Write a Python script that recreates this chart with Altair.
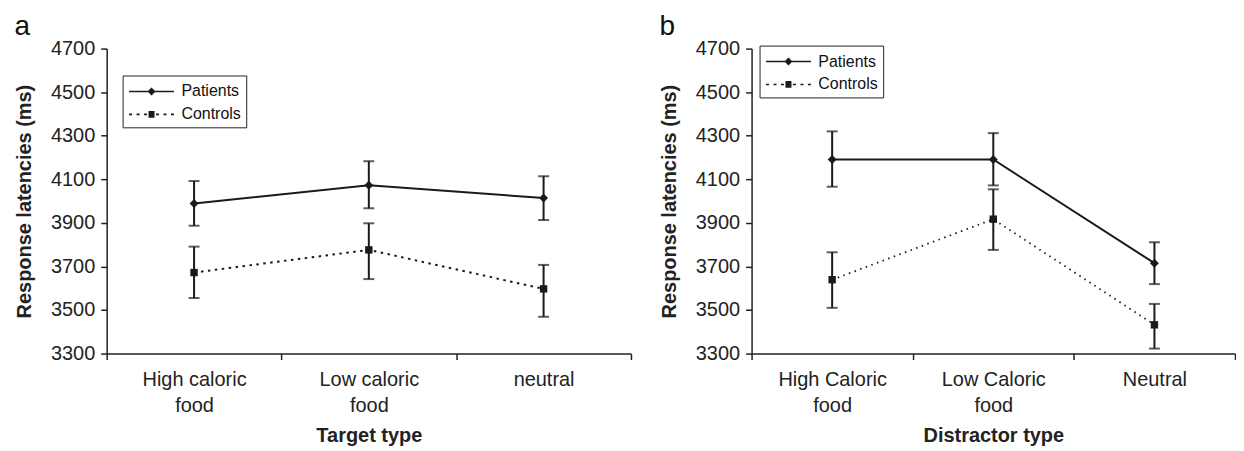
import altair as alt
import pandas as pd

SERIES = ["Patients", "Controls"]
Y_TICKS = [3300, 3500, 3700, 3900, 4100, 4300, 4500, 4700]

# Panel a: target type
cats_a = ["High caloric\nfood", "Low caloric\nfood", "neutral"]
pat_a = [3989, 4073, 4014]
pat_a_lo = [3887, 3967, 3913]
pat_a_hi = [4092, 4183, 4114]
con_a = [3672, 3776, 3597]
con_a_lo = [3555, 3642, 3469]
con_a_hi = [3791, 3898, 3707]

# Panel b: distractor type
cats_b = ["High Caloric\nfood", "Low Caloric\nfood", "Neutral"]
pat_b = [4191, 4191, 3715]
pat_b_lo = [4066, 4072, 3619]
pat_b_hi = [4320, 4312, 3811]
con_b = [3639, 3917, 3432]
con_b_lo = [3510, 3776, 3323]
con_b_hi = [3765, 4054, 3528]

INK = "#1a1a1a"
FONT = "Liberation Sans"

# legend symbols: line + marker drawn with strokes only (unit = sqrt(size)/2)
PATH_PAT = ("M-2.25,0H2.25"
            "M-0.08,-0.3H0.08M-0.18,-0.2H0.18M-0.28,-0.1H0.28"
            "M-0.38,0H0.38M-0.28,0.1H0.28M-0.18,0.2H0.18M-0.08,0.3H0.08")
PATH_CON = ("M-2.25,0H-1.95M-1.5,0H-1.2M-0.75,0H-0.45"
            "M-0.3,-0.26H0.3M-0.3,-0.13H0.3M-0.3,0H0.3M-0.3,0.13H0.3M-0.3,0.26H0.3"
            "M0.45,0H0.75M1.2,0H1.5M1.95,0H2.25")


def panel(cats, pat, pat_lo, pat_hi, con, con_lo, con_hi, xtitle, letter,
          width, con_dash, con_w, lx, ly):
    rows = []
    for s, m, lo, hi in [("Patients", pat, pat_lo, pat_hi),
                         ("Controls", con, con_lo, con_hi)]:
        for c, v, l, h in zip(cats, m, lo, hi):
            rows.append(dict(cat=c, series=s, mean=v, lo=l, hi=h))
    df = pd.DataFrame(rows)
    base = alt.Chart(df)

    x = alt.X("cat:N", sort=cats,
              scale=alt.Scale(type="band", paddingInner=0, paddingOuter=0),
              axis=alt.Axis(title=xtitle, labelAngle=0, tickBand="extent",
                            labelExpr="split(datum.label, '\\n')",
                            labelLineHeight=26, labelPadding=10,
                            titlePadding=10))
    yscale = alt.Scale(domain=[3300, 4700], nice=False, zero=False)
    y = alt.Y("mean:Q", scale=yscale,
              axis=alt.Axis(values=Y_TICKS, format="d",
                            title="Response latencies (ms)",
                            titlePadding=16, labelPadding=6))

    line_p = base.transform_filter("datum.series == 'Patients'").mark_line(
        color=INK, strokeWidth=2).encode(x=x, y=y)
    line_c = base.transform_filter("datum.series == 'Controls'").mark_line(
        color=INK, strokeWidth=con_w, strokeDash=con_dash).encode(x=x, y=y)
    err = base.mark_rule(color=INK, strokeWidth=2).encode(
        x=x, y=alt.Y("lo:Q", scale=yscale), y2="hi:Q")
    cap_lo = base.mark_tick(color=INK, thickness=2, size=11).encode(
        x=x, y=alt.Y("lo:Q", scale=yscale))
    cap_hi = base.mark_tick(color=INK, thickness=2, size=11).encode(
        x=x, y=alt.Y("hi:Q", scale=yscale))
    pts = base.mark_point(filled=True, opacity=1, color=INK).encode(
        x=x, y=y,
        shape=alt.Shape("series:N", scale=alt.Scale(domain=SERIES,
                        range=["diamond", "square"]), legend=None),
        size=alt.Size("series:N", scale=alt.Scale(domain=SERIES,
                      range=[80, 55]), legend=None))
    leg = base.mark_point(filled=False, opacity=0, color=INK,
                          strokeWidth=1.6, size=400).encode(
        x=x, y=y,
        shape=alt.Shape("series:N",
                        scale=alt.Scale(domain=SERIES, range=[PATH_PAT, PATH_CON]),
                        legend=alt.Legend(
                            title=None, orient="none", legendX=lx, legendY=ly,
                            symbolOpacity=1, symbolStrokeColor=INK,
                            symbolStrokeWidth=1.6,
                            symbolSize=400, symbolOffset=13,
                            labelOffset=19, labelFontSize=16, labelFont=FONT,
                            labelColor="#111", rowPadding=4, padding=5,
                            strokeColor="#222", fillColor="white")))

    return alt.layer(line_p, line_c, err, cap_lo, cap_hi, pts, leg).resolve_scale(
        shape="independent", size="independent").properties(
        width=width, height=306,
        title=alt.TitleParams(letter, anchor="start", frame="bounds",
                              fontSize=28, font=FONT, fontWeight="normal",
                              color="#111", offset=-2))


left = panel(cats_a, pat_a, pat_a_lo, pat_a_hi, con_a, con_a_lo, con_a_hi,
             "Target type", "a", 526, [2.5, 4.5], 2, 16, 27)
right = panel(cats_b, pat_b, pat_b_lo, pat_b_hi, con_b, con_b_lo, con_b_hi,
              "Distractor type", "b", 485, [1.5, 4.5], 1.8, 8, -3)

chart = alt.hconcat(left, right, spacing=27).properties(
    padding={"left": 6, "top": 4, "right": 0, "bottom": 0}
).configure_view(stroke=None).configure_axis(
    grid=False, domainColor="#222", domainWidth=1.5, tickColor="#222",
    tickWidth=1.5, tickSize=6, labelFontSize=20, labelFont=FONT,
    labelColor="#222", titleFontSize=20, titleFont=FONT,
    titleFontWeight="bold", titleColor="#222")

chart.save("out.html", embed_options={"renderer": "svg", "actions": False})
